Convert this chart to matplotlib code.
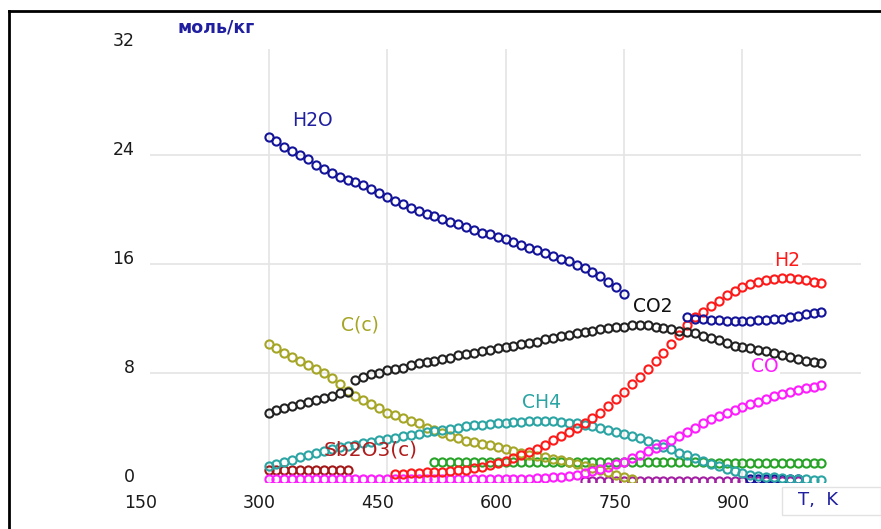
import matplotlib
matplotlib.use("Agg")
import matplotlib.pyplot as plt
import matplotlib.transforms as mtrans
from matplotlib.lines import Line2D
from matplotlib.patches import Rectangle
import numpy as np

# ---------------- data (mol/kg vs T, K; 10 K steps) ----------------
step = 10

h2o_start = 300
h2o = [25.3, 25.0, 24.6, 24.3, 24.0, 23.7, 23.3, 23.0, 22.7, 22.4,
       22.2, 22.0, 21.8, 21.5, 21.2, 20.9, 20.6, 20.4, 20.1, 19.9,
       19.7, 19.5, 19.3, 19.1, 18.9, 18.7, 18.5, 18.3, 18.2, 18.0,
       17.8, 17.6, 17.4, 17.2, 17.0, 16.8, 16.6, 16.4, 16.2, 15.9,
       15.7, 15.4, 15.1, 14.7, 14.3, 13.8,
       None, None, None, None, None, None, None,
       12.1, 12.0, 12.0, 11.9, 11.9, 11.8, 11.8, 11.8, 11.8, 11.9,
       11.9, 12.0, 12.0, 12.1, 12.2, 12.3, 12.4, 12.5]

co2_start = 300
co2 = [5.1, 5.3, 5.4, 5.6, 5.7, 5.9, 6.0, 6.2, 6.3, 6.5,
       6.6, 7.5, 7.7, 7.9, 8.0, 8.2, 8.3, 8.4, 8.6, 8.7,
       8.8, 8.9, 9.0, 9.1, 9.3, 9.4, 9.5, 9.6, 9.7, 9.8,
       9.9, 10.0, 10.1, 10.2, 10.3, 10.5, 10.6, 10.7, 10.8, 10.9,
       11.0, 11.1, 11.2, 11.3, 11.4, 11.4, 11.5, 11.5, 11.5, 11.4,
       11.3, 11.2, 11.1, 11.0, 10.9, 10.7, 10.6, 10.4, 10.2, 10.0,
       9.9, 9.8, 9.7, 9.6, 9.5, 9.3, 9.2, 9.0, 8.9, 8.8,
       8.7]

h2_start = 460
h2 = [0.6, 0.6, 0.65, 0.65, 0.7, 0.7, 0.75, 0.8, 0.85, 0.9,
      1.0, 1.1, 1.25, 1.4, 1.55, 1.75, 1.95, 2.2, 2.45, 2.75,
      3.05, 3.35, 3.65, 3.95, 4.3, 4.7, 5.1, 5.6, 6.1, 6.6,
      7.2, 7.7, 8.3, 8.9, 9.5, 10.1, 10.8, 11.5, 12.1, 12.5,
      12.9, 13.3, 13.7, 14.0, 14.3, 14.5, 14.7, 14.8, 14.9, 15.0,
      15.0, 14.9, 14.8, 14.7, 14.6]

co_start = 300
co = [0.2, 0.2, 0.2, 0.2, 0.2, 0.2, 0.2, 0.2, 0.2, 0.2,
      0.2, 0.2, 0.2, 0.2, 0.2, 0.2, 0.2, 0.2, 0.2, 0.2,
      0.2, 0.2, 0.2, 0.2, 0.2, 0.2, 0.2, 0.2, 0.2, 0.2,
      0.2, 0.2, 0.25, 0.25, 0.3, 0.3, 0.35, 0.4, 0.45, 0.55,
      0.65, 0.8, 0.95, 1.1, 1.3, 1.5, 1.75, 2.0, 2.25, 2.5,
      2.8, 3.1, 3.4, 3.7, 4.0, 4.3, 4.6, 4.85, 5.1, 5.3,
      5.5, 5.7, 5.9, 6.1, 6.3, 6.45, 6.6, 6.75, 6.9, 7.0,
      7.1]

ch4_start = 300
ch4 = [1.2, 1.35, 1.5, 1.65, 1.8, 1.95, 2.1, 2.25, 2.4, 2.55,
       2.65, 2.75, 2.85, 2.95, 3.05, 3.15, 3.25, 3.35, 3.45, 3.55,
       3.65, 3.75, 3.85, 3.9, 4.0, 4.1, 4.15, 4.2, 4.25, 4.3,
       4.35, 4.4, 4.4, 4.45, 4.45, 4.45, 4.45, 4.4, 4.35, 4.3,
       4.2, 4.1, 4.0, 3.85, 3.7, 3.55, 3.4, 3.2, 3.0, 2.8,
       2.6, 2.4, 2.15, 1.95, 1.75, 1.55, 1.35, 1.15, 0.95, 0.8,
       0.65, 0.55, 0.45, 0.4, 0.35, 0.3, 0.25, 0.2, 0.2, 0.15,
       0.15]

cc_start = 300
cc = [10.1, 9.8, 9.5, 9.2, 8.9, 8.6, 8.3, 8.0, 7.6, 7.2,
      6.7, 6.3, 6.0, 5.7, 5.4, 5.1, 4.9, 4.7, 4.5, 4.3,
      4.0, 3.8, 3.6, 3.4, 3.2, 3.0, 2.9, 2.8, 2.7, 2.6,
      2.4, 2.3, 2.15, 2.0, 1.9, 1.8, 1.7, 1.6, 1.45, 1.3,
      1.15, 1.0, 0.85, 0.7, 0.5, 0.35, 0.2]

green_start = 510
green = [1.5, 1.5, 1.5, 1.5, 1.5, 1.5, 1.5, 1.5, 1.5, 1.5,
         1.5, 1.5, 1.5, 1.5, 1.5, 1.5, 1.5, 1.5, 1.5, 1.5,
         1.45, 1.45, 1.45, 1.45, 1.45, 1.45, 1.45, 1.45, 1.45, 1.45,
         1.45, 1.45, 1.45, 1.45, 1.45, 1.4, 1.4, 1.4, 1.4, 1.4,
         1.4, 1.4, 1.4, 1.4, 1.4, 1.4, 1.4, 1.4, 1.4, 1.4]

purple_start = 700
purple = [0.1, 0.1, 0.1, 0.1, 0.1, 0.1, 0.1, 0.1, 0.1, 0.1,
          0.1, 0.1, 0.1, 0.1, 0.1, 0.1, 0.1, 0.1, 0.1, 0.1,
          0.1, 0.1, 0.1, 0.1, 0.1, 0.1, 0.1, 0.1]

navy_low_start = 910
navy_low = [0.2, 0.2, 0.2, 0.2, 0.2, 0.2, 0.2]

sb2o3_start = 300
sb2o3 = [0.9, 0.9, 0.9, 0.9, 0.9, 0.9, 0.9, 0.85, 0.85, 0.85, 0.85]

x_ticks = [150, 300, 450, 600, 750, 900]
y_ticks = [0, 8, 16, 24, 32]

# ---------------- figure ----------------
W, H = 881, 529
fig = plt.figure(figsize=(W / 100, H / 100), dpi=100)
fig.patch.set_facecolor("white")
ax = fig.add_axes([150 / W, 1 - 482 / H, 711 / W, 436 / H])
ax.set_xlim(150, 1050)
ax.set_ylim(0, 32)
for s in ax.spines.values():
    s.set_visible(False)

# grid
grid_c = "#e4e4e4"
ax.hlines([8, 16, 24], 150, 1050, colors=grid_c, lw=1.2, zorder=0)
ax.vlines([300, 450, 600, 750, 900], 0, 31.8, colors=grid_c, lw=1.2, zorder=0)

ax.set_xticks(x_ticks)
ax.set_yticks(y_ticks)
ax.set_xticklabels([str(v) for v in x_ticks])
ax.set_yticklabels([str(v) for v in y_ticks])
ax.tick_params(axis="x", length=0, pad=8.5, labelsize=12.5, labelcolor="#1a1a1a")
ax.tick_params(axis="y", length=0, pad=11, labelsize=12.5, labelcolor="#1a1a1a")
for lab in ax.get_xticklabels():
    lab.set_transform(lab.get_transform() + mtrans.ScaledTranslation(-0.09, 0, fig.dpi_scale_trans))
for lab in ax.get_yticklabels():
    lab.set_transform(lab.get_transform() + mtrans.ScaledTranslation(0, 0.07, fig.dpi_scale_trans))

def xs(start, vals):
    return [start + step * i for i in range(len(vals))]

def yv(vals):
    return [np.nan if v is None else v for v in vals]

mk = dict(ls="none", marker="o", ms=5.9, mew=1.5, mfc="none")

series = [
    (sb2o3_start, sb2o3, "#a31818"),
    (purple_start, purple, "#a21ea2"),
    (navy_low_start, navy_low, "#14149a"),
    (green_start, green, "#27a327"),
    (cc_start, cc, "#a5a526"),
    (ch4_start, ch4, "#2ba4a4"),
    (co_start, co, "#ff1cff"),
    (h2_start, h2, "#ff1a1a"),
    (co2_start, co2, "#222222"),
    (h2o_start, h2o, "#14149a"),
]
for start, vals, col in series:
    ax.plot(xs(start, vals), yv(vals), color=col, zorder=3, **mk)

# series labels
lab_kw = dict(fontsize=13.5, ha="center", va="center", zorder=2,
              bbox=dict(boxstyle="square,pad=0.1", fc="white", ec="none"))
ax.text(356, 26.5, "H2O", color="#1f1fa0", **lab_kw)
ax.text(416, 11.5, "C(c)", color="#a5a526", **lab_kw)
ax.text(786, 12.9, "CO2", color="#111111", **lab_kw)
ax.text(646, 5.8, "CH4", color="#2ba4a4", **lab_kw)
ax.text(957, 16.25, "H2", color="#ff1a1a", **lab_kw)
ax.text(928, 8.45, "CO", color="#ff1cff", **lab_kw)
ax.text(429, 2.35, "Sb2O3(c)", color="#b01c1c", fontsize=14.5,
        ha="center", va="center", zorder=4)

# unit label
fig.text(216 / W, 1 - 28 / H, "моль/кг", color="#1f1fa0", fontsize=12.5,
         fontweight="bold", ha="center", va="center")

# T, K box
fig.add_artist(Rectangle((782 / W, 1 - 515 / H), 99 / W, 28 / H,
                         transform=fig.transFigure, fc="white", ec="#e2e2e2", lw=1))
fig.text(818 / W, 1 - 500 / H, "T,  K", color="#1f1fa0", fontsize=13,
         ha="center", va="center")

# frame lines (top and left)
fig.add_artist(Line2D([9 / W, 1], [1 - 11 / H, 1 - 11 / H], color="black", lw=2,
                      transform=fig.transFigure))
fig.add_artist(Line2D([9 / W, 9 / W], [0, 1 - 11 / H], color="black", lw=2,
                      transform=fig.transFigure))

fig.savefig("out.png", dpi=100)
